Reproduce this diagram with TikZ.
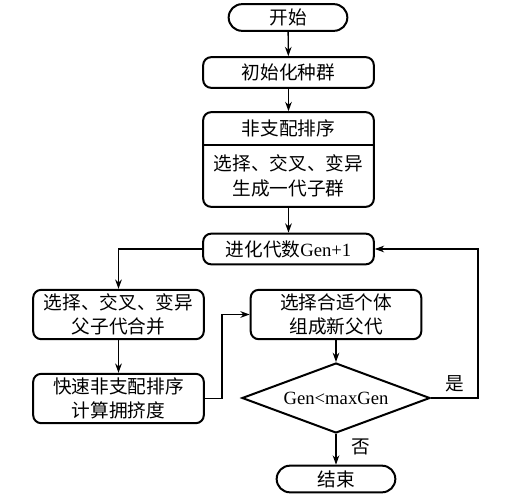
\documentclass[tikz,border=0pt]{standalone}
\usepackage{fontspec}
\setmainfont{Liberation Serif}
\newfontfamily\cjk{Noto Sans CJK SC}
\usetikzlibrary{shapes.geometric,arrows.meta}
\begin{document}
\begin{tikzpicture}[x=0.75pt,y=-0.75pt,
  font=\fontsize{14pt}{16.5pt}\selectfont,
  box/.style={draw,line width=1.5pt,rounded corners=6pt,minimum width=128pt,align=center,inner sep=0pt},
  term/.style={draw,line width=1.5pt,rounded corners=10pt,minimum width=89pt,minimum height=20pt,inner sep=0pt},
  dec/.style={draw,line width=1.5pt,diamond,aspect=2.69,minimum width=141pt,minimum height=52.5pt,inner sep=0pt},
  txt/.style={inner sep=0pt,align=center},
  arr/.style={-{Stealth[length=7pt,width=5pt]},line width=1pt},
  ln/.style={line width=1pt}]
\useasboundingbox[fill=white] (0,0) rectangle (511,500);
\node[term] (start) at (288,17.5) {\cjk 开始};
\node[box,minimum height=23pt] (init) at (288.5,72.5) {\cjk 初始化种群};
\node[box,minimum height=71pt] (nsort) at (288.5,159.5) {};
\node[txt] (nsortA) at (288.5,128.5) {\cjk 非支配排序};
\node[txt] (nsortB) at (288.5,176) {\cjk 选择、交叉、变异\\[2pt]\cjk 生成一代子群};
\draw[line width=1.5pt] (nsort.west |- 0,145) -- (nsort.east |- 0,145);
\node[box,minimum height=23pt] (gen) at (288.5,249) {{\cjk 进化代数}Gen+1};
\node[box,minimum height=37pt] (sel) at (118.5,314.5) {\cjk 选择、交叉、变异\\[2pt]\cjk 父子代合并};
\node[box,minimum height=37pt] (fast) at (118.5,398.5) {\cjk 快速非支配排序\\[2pt]\cjk 计算拥挤度};
\node[box,minimum height=37pt] (pick) at (336,314.5) {\cjk 选择合适个体\\[2pt]\cjk 组成新父代};
\node[dec] (cond) at (336,398) {Gen<maxGen};
\node[term] (stop) at (336,479) {\cjk 结束};
\node[txt] (yes) at (455,384) {\cjk 是};
\node[txt] (no) at (361,447) {\cjk 否};
\draw[arr] (start) -- (init);
\draw[arr] (init) -- (nsort);
\draw[arr] (nsort) -- (gen);
\draw[arr] (gen.west) -| (sel.north);
\draw[arr] (sel) -- (fast);
\draw[arr] (fast.east) -- (222,398.5) |- (pick.west);
\draw[arr] (pick) -- (cond);
\draw[arr] (cond.east) -- (478,398) |- (gen.east);
\draw[arr] (cond) -- (stop);
\end{tikzpicture}
\end{document}
